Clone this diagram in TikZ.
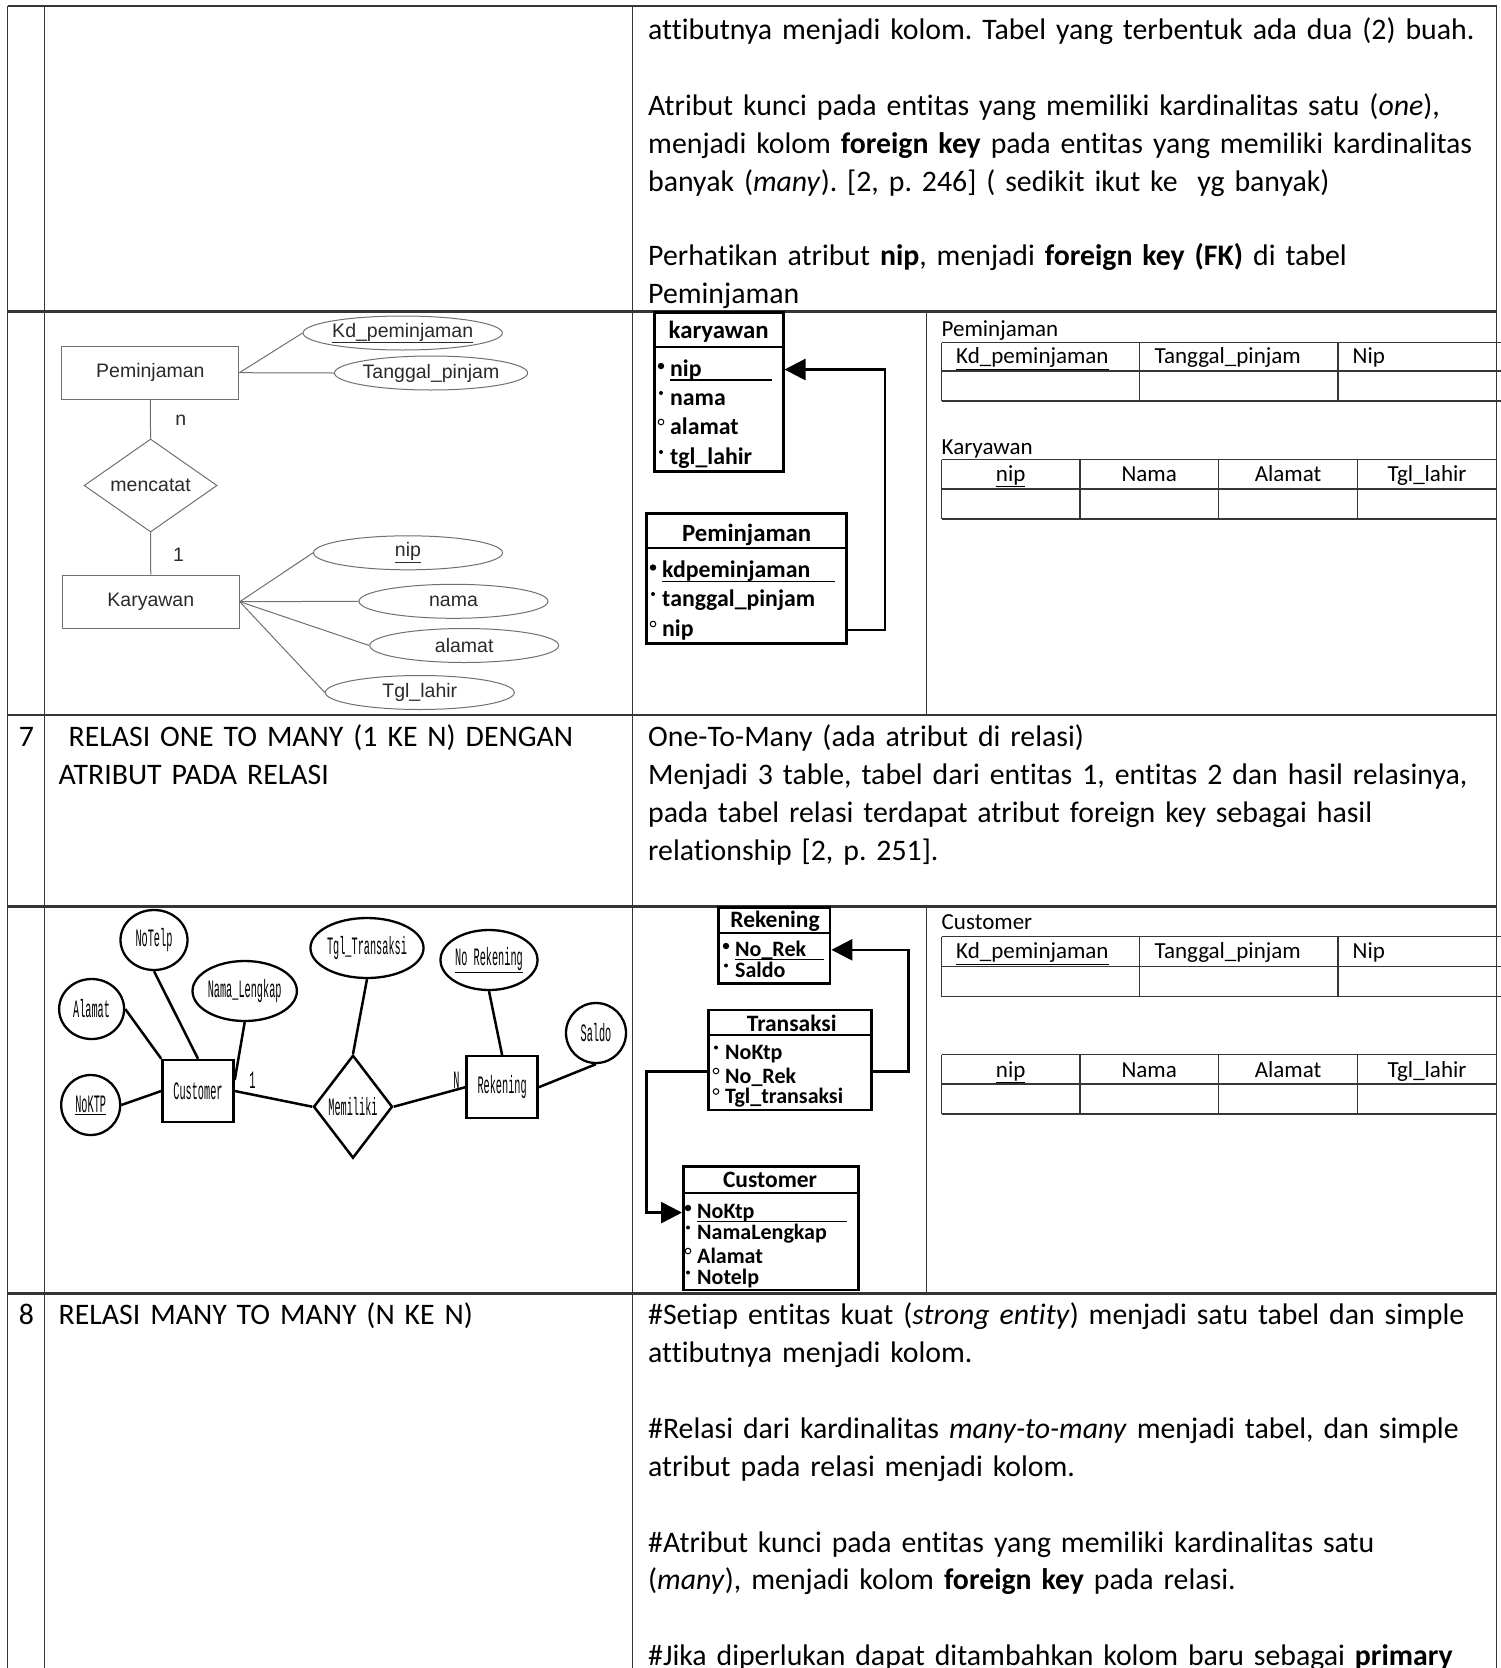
\documentclass[tikz,border=0pt]{standalone}
\usepackage{fontspec}
\setmainfont{Carlito}[Ligatures=NoCommon]
\newfontfamily\erAfont{Liberation Sans}
\newfontfamily\erBfont[FakeStretch=0.41]{Liberation Mono}
\usetikzlibrary{positioning,arrows.meta,shapes.geometric}
\definecolor{gridline}{HTML}{353535}
\definecolor{erAline}{HTML}{707070}
\definecolor{erAtext}{HTML}{2A2A2A}

\frenchspacing
\newcommand{\bodyfont}{\fontsize{29.8}{37.95}\selectfont}
\newcommand{\cellfont}{\fontsize{23}{26}\selectfont}
\newcommand{\erAsize}{\erAfont\fontsize{19.5}{22}\selectfont}
\newcommand{\erBsize}{\erBfont\fontsize{25}{27}\selectfont}
% attribute markers of the schema boxes
\newcommand{\pkmark}[1]{\fill ([xshift=-9pt,yshift=10pt]#1.base west) circle (3.2pt);}
\newcommand{\mandmark}[1]{\fill ([xshift=-9pt,yshift=12pt]#1.base west) circle (2pt);}
\newcommand{\optmark}[1]{\draw[line width=1pt] ([xshift=-9pt,yshift=12pt]#1.base west) circle (2.8pt);}

\begin{document}
\begin{tikzpicture}[x=1pt, y=-1pt,
  bodytext/.style={anchor=base west, inner sep=0, align=left, text width=900pt, font=\bodyfont},
  numlbl/.style={anchor=base, inner sep=0, font=\bodyfont},
  gridrow/.style={draw=gridline, line width=2.2pt},
  gridcol/.style={draw=gridline, line width=1.4pt},
  cellrule/.style={draw=gridline, line width=1.3pt},
  cellleft/.style={anchor=base west, inner sep=0, font=\cellfont},
  cellmid/.style={anchor=base, inner sep=0, font=\cellfont},
  entA/.style={draw=erAline, line width=1pt, minimum width=177pt, minimum height=53pt, inner sep=0, font=\erAsize, text=erAtext},
  attA/.style={ellipse, draw=erAline, line width=1pt, minimum width=189pt, minimum height=34pt, inner sep=0, font=\erAsize, text=erAtext},
  relA/.style={diamond, draw=erAline, line width=1pt, minimum width=133pt, minimum height=79pt, inner sep=0, font=\erAsize, text=erAtext},
  cardA/.style={inner sep=0, font=\erAsize, text=erAtext},
  linkA/.style={draw=erAline, line width=1pt},
  entB/.style={draw, line width=2.5pt, minimum width=71pt, minimum height=62pt, inner sep=0, font=\erBsize},
  attB/.style={ellipse, draw, line width=2.3pt, minimum height=60pt, inner sep=0, font=\erBsize},
  relB/.style={diamond, draw, line width=2.5pt, minimum width=79pt, minimum height=103pt, inner sep=0, font=\erBsize},
  cardB/.style={inner sep=0, font=\erBsize},
  linkB/.style={line width=2.5pt},
  tblbox/.style={draw, line width=2.6pt, inner sep=0},
  tblsep/.style={line width=2pt},
  keyline/.style={line width=1.5pt},
  tblhead/.style={anchor=base, inner sep=0, font=\bfseries\fontsize{24.8}{27}\selectfont},
  tblattr/.style={anchor=base west, inner sep=0, font=\bfseries\fontsize{23.8}{26}\selectfont},
  tblheadB/.style={anchor=base, inner sep=0, font=\bfseries\fontsize{23.5}{25}\selectfont},
  tblattrB/.style={anchor=base west, inner sep=0, font=\bfseries\fontsize{22}{24}\selectfont},
  fkarrow/.style={line width=2.6pt, -{Triangle[length=21pt,width=21pt]}}]

\fill[white] (0,0) rectangle (1501,1668);
\useasboundingbox (0,0) rectangle (1501,1668);

% table grid
\foreach \gy in {6,311.5,715,906.5,1293.5}
  \draw[gridrow] (7.5,\gy) -- (1496.5,\gy);
\foreach \gx in {7.5,44.5,632.5,1496.5}
  \draw[gridcol] (\gx,6) -- (\gx,1668);
\draw[gridcol] (926.5,311.5) -- (926.5,715);
\draw[gridcol] (926.5,906.5) -- (926.5,1293.5);

% text of the first row
\node[bodytext] (txtA) at (648,39.1) {attibutnya menjadi kolom. Tabel yang terbentuk ada dua (2) buah.};
\node[bodytext] (txtB) at (648,115.7) {Atribut kunci pada entitas yang memiliki kardinalitas satu (\textit{one}),\\ menjadi kolom \textbf{foreign key} pada entitas yang memiliki kardinalitas\\ banyak (\textit{many}). [2, p. 246] ( sedikit ikut ke\ \ yg banyak)};
\node[bodytext] (txtC) at (648,265.7) {Perhatikan atribut \textbf{nip}, menjadi \textbf{foreign key (FK)} di tabel\\ Peminjaman};

% ER diagram one to many
\node[entA] (pemE) at (150.4,372.7) {Peminjaman};
\node[entA] (karE) at (150.8,601.7) {Karyawan};
\node[relA] (mencatatR) at (150.6,485.5) {mencatat};
\node[attA] (kdA) at (402.7,333) {\underline{Kd\_peminjaman}};
\node[attA] (tglpA) at (431,373) {Tanggal\_pinjam};
\node[attA] (nipA) at (408,552.8) {\underline{nip}};
\node[attA] (namaA) at (453.5,601.3) {nama};
\node[attA] (alamatA) at (464.2,645.5) {alamat};
\node[attA] (lahirA) at (419.8,692.5) {Tgl\_lahir};
\node[cardA] (cardN) at (180.8,420.5) {n};
\node[cardA] (cardOne) at (178.5,555) {1};
\draw[linkA] (pemE.east) -- (kdA.west);
\draw[linkA] (pemE.east) -- (tglpA.west);
\draw[linkA] (pemE) -- (mencatatR);
\draw[linkA] (mencatatR) -- (karE);
\foreach \att in {nipA,namaA,alamatA,lahirA}
  \draw[linkA] (karE.east) -- (\att.west);

% schema karyawan / Peminjaman
\node[tblbox, minimum width=129pt, minimum height=159pt] (kBox) at (718.7,392) {};
\draw[tblsep] (654,346.7) -- (783.3,346.7);
\node[tblhead] (kHead) at (718.7,338.5) {karyawan};
\node[tblattr] (kNip) at (670,376) {nip};
\node[tblattr] (kNama) at (670,405) {nama};
\node[tblattr] (kAlamat) at (670,434) {alamat};
\node[tblattr] (kLahir) at (670,464) {tgl\_lahir};
\draw[keyline] ([yshift=-4pt]kNip.base west) -- +(102pt,0);
\pkmark{kNip} \mandmark{kNama} \optmark{kAlamat} \mandmark{kLahir}

\node[tblbox, minimum width=200pt, minimum height=130pt] (pBox) at (746.7,578.3) {};
\draw[tblsep] (646.7,548.3) -- (846.7,548.3);
\node[tblhead] (pHead) at (746.7,541.5) {Peminjaman};
\node[tblattr] (pKd) at (662,577.5) {kdpeminjaman};
\node[tblattr] (pTgl) at (662,606) {tanggal\_pinjam};
\node[tblattr] (pNip) at (662,636) {nip};
\draw[keyline] ([yshift=-4pt]pKd.base west) -- +(173pt,0);
\pkmark{pKd} \mandmark{pTgl} \optmark{pNip}

\coordinate (fkK) at (885,630);
\draw[fkarrow] (pBox.east |- fkK) -- (fkK) |- (kBox.east |- kNip);

% relational tables Peminjaman / Karyawan
\foreach \ty in {342.5,371,401}
  \draw[cellrule] (941.5,\ty) -- (1501,\ty);
\foreach \tx in {941.5,1139.5,1338}
  \draw[cellrule] (\tx,342.5) -- (\tx,401);
\node[cellleft] (tPemLbl) at (941.5,336) {Peminjaman};
\node[cellleft] (tPemKd) at (956,363.5) {\underline{Kd\_peminjaman}};
\node[cellleft] (tPemTgl) at (1154.5,363.5) {Tanggal\_pinjam};
\node[cellleft] (tPemNip) at (1352.5,363.5) {Nip};
\foreach \ty in {459.5,489,519}
  \draw[cellrule] (941.5,\ty) -- (1496.5,\ty);
\foreach \tx in {941.5,1080,1218.5,1357.5}
  \draw[cellrule] (\tx,459.5) -- (\tx,519);
\node[cellleft] (tKarLbl) at (941.5,454) {Karyawan};
\node[cellmid] (tKarNip) at (1010.7,481.5) {\underline{nip}};
\node[cellmid] (tKarNama) at (1149.2,481.5) {Nama};
\node[cellmid] (tKarAlamat) at (1288,481.5) {Alamat};
\node[cellmid] (tKarLahir) at (1427,481.5) {Tgl\_lahir};

% row 7
\node[numlbl] (num7) at (26.5,746.6) {7};
\node[bodytext] (ttl7) at (58.5,746.6) {\mbox{}\ RELASI ONE TO MANY (1 KE N) DENGAN\\ ATRIBUT PADA RELASI};
\node[bodytext] (txt7) at (648,746.6) {One-To-Many (ada atribut di relasi)\\ Menjadi 3 table, tabel dari entitas 1, entitas 2 dan hasil relasinya,\\ pada tabel relasi terdapat atribut foreign key sebagai hasil\\ relationship [2, p. 251].};

% ER diagram with attribute on the relation
\node[entB] (custE) at (198,1091) {Customer};
\node[relB] (memR) at (353,1106.7) {Memiliki};
\node[entB] (rekE) at (502.1,1087.2) {Rekening};
\node[attB, minimum width=59pt] (noktpA) at (90.7,1105) {\underline{NoKTP}};
\node[attB, minimum width=65pt] (alamatB) at (91.6,1009) {Alamat};
\node[attB, minimum width=67pt] (notelpA) at (154,940) {NoTelp};
\node[attB, minimum width=100pt] (namaB) at (244.7,991) {Nama\_Lengkap};
\node[attB, minimum width=107pt] (tgltA) at (367,948) {Tgl\_Transaksi};
\node[attB, minimum width=97pt] (norekA) at (489,960) {\underline{No Rekening}};
\node[attB, minimum width=60pt] (saldoA) at (596,1033) {Saldo};
\node[cardB] (cardB1) at (252.4,1080) {1};
\node[cardB] (cardBN) at (456.4,1080) {N};
\draw[linkB] (noktpA.east) -- (custE.west);
\draw[linkB] (alamatB.east) -- (custE.north west);
\draw[linkB] (notelpA.south) -- (custE.north);
\draw[linkB] (namaB.south) -- ([yshift=11pt]custE.east);
\draw[linkB] (custE.east) -- (memR.west);
\draw[linkB] (memR.east) -- (rekE.west);
\draw[linkB] (tgltA.south) -- (memR.north);
\draw[linkB] (norekA.south) -- (rekE.north);
\draw[linkB] (saldoA.south) -- (rekE.east);

% schema Rekening / Transaksi / Customer
\node[tblbox, minimum width=111.7pt, minimum height=76pt] (rBox) at (774.2,945.3) {};
\draw[tblsep] (718.3,932.7) -- (830,932.7);
\node[tblheadB] (rHead) at (775,927.5) {Rekening};
\node[tblattrB] (rNoRek) at (735,956) {No\_Rek};
\node[tblattrB] (rSaldo) at (735,977.5) {Saldo};
\draw[keyline] ([yshift=-3.5pt]rNoRek.base west) -- +(89pt,0);
\pkmark{rNoRek} \mandmark{rSaldo}

\node[tblbox, minimum width=163.4pt, minimum height=100pt] (tBox) at (790,1060) {};
\draw[tblsep] (708.3,1035) -- (871.7,1035);
\node[tblheadB] (tHead) at (791.7,1031.5) {Transaksi};
\node[tblattrB] (tNoKtp) at (725,1059.5) {NoKtp};
\node[tblattrB] (tNoRek) at (725,1083) {No\_Rek};
\node[tblattrB] (tTgl) at (725,1103.5) {Tgl\_transaksi};
\mandmark{tNoKtp} \optmark{tNoRek} \optmark{tTgl}

\node[tblbox, minimum width=175pt, minimum height=123.3pt] (cBox) at (770.8,1228.4) {};
\draw[tblsep] (683.3,1193.3) -- (858.3,1193.3);
\node[tblheadB] (cHead) at (770,1187) {Customer};
\node[tblattrB] (cNoKtp) at (697,1218) {NoKtp};
\node[tblattrB] (cNama) at (697,1239.5) {NamaLengkap};
\node[tblattrB] (cAlamat) at (697,1263) {Alamat};
\node[tblattrB] (cTelp) at (697,1284.5) {Notelp};
\draw[keyline] ([yshift=-3.5pt]cNoKtp.base west) -- +(150pt,0);
\pkmark{cNoKtp} \mandmark{cNama} \optmark{cAlamat} \mandmark{cTelp}

\coordinate (fkR) at (908.3,1071.7);
\coordinate (fkC) at (646.7,1071.7);
\draw[fkarrow] (tBox.east |- fkR) -- (fkR) |- (rBox.east |- rNoRek);
\draw[fkarrow] (tBox.west |- fkC) -- (fkC) |- (cBox.west |- cNoKtp);

% relational tables Customer
\foreach \ty in {936.5,966.5,996.5}
  \draw[cellrule] (941.5,\ty) -- (1501,\ty);
\foreach \tx in {941.5,1139.5,1338}
  \draw[cellrule] (\tx,936.5) -- (\tx,996.5);
\node[cellleft] (tCusLbl) at (941.5,929) {Customer};
\node[cellleft] (tCusKd) at (956,958.5) {\underline{Kd\_peminjaman}};
\node[cellleft] (tCusTgl) at (1154.5,958.5) {Tanggal\_pinjam};
\node[cellleft] (tCusNip) at (1352.5,958.5) {Nip};
\foreach \ty in {1054.5,1084,1114}
  \draw[cellrule] (941.5,\ty) -- (1496.5,\ty);
\foreach \tx in {941.5,1080,1218.5,1357.5}
  \draw[cellrule] (\tx,1054.5) -- (\tx,1114);
\node[cellmid] (tSecNip) at (1010.7,1077) {\underline{nip}};
\node[cellmid] (tSecNama) at (1149.2,1077) {Nama};
\node[cellmid] (tSecAlamat) at (1288,1077) {Alamat};
\node[cellmid] (tSecLahir) at (1427,1077) {Tgl\_lahir};

% row 8
\node[numlbl] (num8) at (26.5,1324.2) {8};
\node[bodytext] (ttl8) at (58.5,1324.2) {RELASI MANY TO MANY (N KE N)};
\node[bodytext] (txt8a) at (648,1324.2) {\#Setiap entitas kuat (\textit{strong entity}) menjadi satu tabel dan simple\\ attibutnya menjadi kolom.};
\node[bodytext] (txt8b) at (648,1438.1) {\#Relasi dari kardinalitas \textit{many-to-many} menjadi tabel, dan simple\\ atribut pada relasi menjadi kolom.};
\node[bodytext] (txt8c) at (648,1552) {\#Atribut kunci pada entitas yang memiliki kardinalitas satu\\ (\textit{many}), menjadi kolom \textbf{foreign key} pada relasi.};
\node[bodytext] (txt8d) at (648,1665.8) {\#Jika diperlukan dapat ditambahkan kolom baru sebagai \textbf{primary}};
\end{tikzpicture}
\end{document}
